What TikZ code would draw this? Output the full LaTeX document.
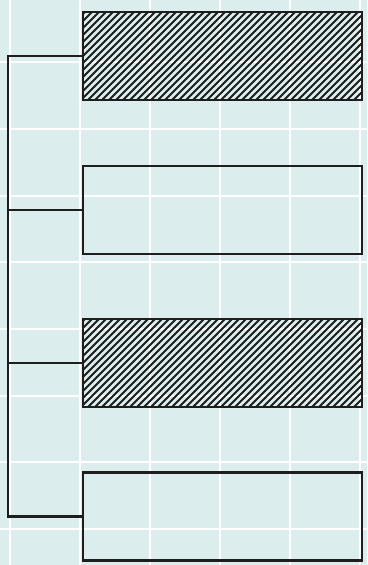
\documentclass[tikz,border=0pt]{standalone}
\definecolor{bgc}{HTML}{DCEDED}
\definecolor{ink}{HTML}{1E1E1E}
\begin{document}
\begin{tikzpicture}[x=1pt,y=-1pt,
  gridline/.style={white,line width=1.8pt},
  box/.style={draw=ink,line width=2.4pt,minimum width=279pt,minimum height=88pt,inner sep=0pt,outer sep=0pt},
  hatched/.style={box,path picture={
    \foreach \i in {0,...,56}
      \draw[ink,line width=2pt] ([xshift=\i*7pt-100pt]path picture bounding box.south west) -- ++(100pt,100pt);}},
  conn/.style={draw=ink,line width=2.3pt}]
\fill[bgc] (0,0) rectangle (367,565);
\useasboundingbox (0,0) rectangle (367,565);
\foreach \x in {10,80,150,220,290,360} \draw[gridline] (\x,0) -- (\x,565);
\foreach \y in {62,129,196,262,329,396,462,529} \draw[gridline] (0,\y) -- (367,\y);
\node[hatched] (b1) at (222.5,56) {};
\node[box] (b2) at (222.5,210) {};
\node[hatched] (b3) at (222.5,363) {};
\node[box] (b4) at (222.5,516.5) {};
\coordinate (top) at (8,56);
\coordinate (bot) at (8,516.5);
\draw[conn] (b1.west) -- (top) -- (bot) -- (b4.west);
\draw[conn] (b2.west) -- (b2.west -| top);
\draw[conn] (b3.west) -- (b3.west -| top);
\end{tikzpicture}
\end{document}
